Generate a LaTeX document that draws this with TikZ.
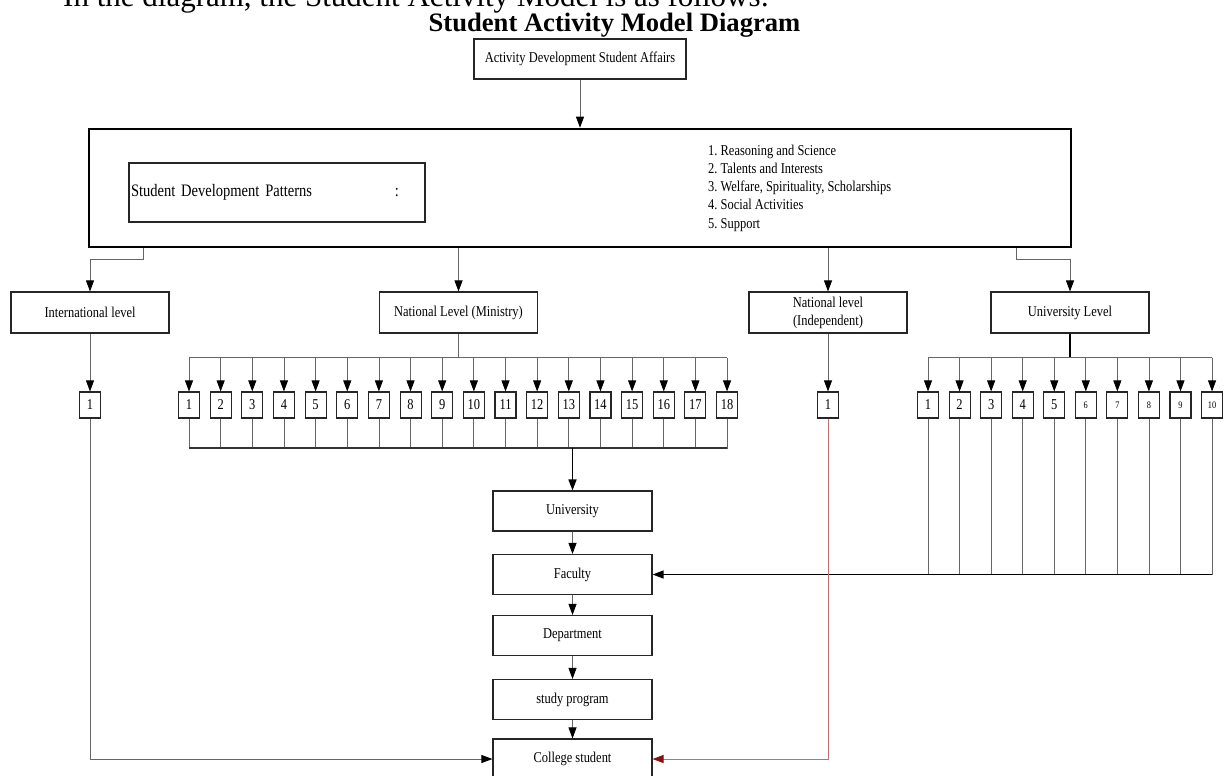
\documentclass[tikz,border=0pt]{standalone}
\usepackage{xcolor}
\usepackage{fontspec}
\setmainfont{Liberation Serif}
\newfontfamily\dgfont[FakeStretch=0.83]{Liberation Serif}
\newcommand{\dg}{\dgfont\fontsize{15}{18}\selectfont\frenchspacing\spaceskip=0.21em plus 0.1em\relax}
\newcommand{\dgsmall}{\dgfont\fontsize{10}{12}\selectfont}
\usepackage{tikz}
\usetikzlibrary{positioning}
\usetikzlibrary{arrows.meta}
\usetikzlibrary{calc}
\definecolor{redline}{HTML}{C07070}
\definecolor{redtip}{HTML}{8B1010}
\tikzset{
  box/.style={draw=black!85, line width=1.1pt, font=\dg, inner sep=2pt, align=center},
  lvlbox/.style={box, minimum width=158pt, minimum height=41pt},
  colbox/.style={box, minimum width=159pt, minimum height=40pt},
  numbox/.style={box, minimum width=21pt, minimum height=26pt, inner sep=0pt},
  link/.style={draw=black!60, line width=0.8pt},
  tip/.style={-{Triangle[width=8pt,length=11pt,color=black]}},
}
\begin{document}
\begin{tikzpicture}[x=1pt,y=-1pt]
\useasboundingbox (0,0) rectangle (1224,776);

% Heading
\node[anchor=base west, inner sep=0pt, font=\fontsize{31}{36}\selectfont] (intro) at (63,7) {In the diagram, the Student Activity Model is as follows:};
\node[anchor=base, inner sep=0pt, font=\bfseries\fontsize{26.6}{30}\selectfont] (title) at (614.5,32) {Student Activity Model Diagram};

% Top boxes
\node[box, minimum width=212pt, minimum height=40pt] (affairs) at (580,59) {Activity Development Student Affairs};
\node[draw, line width=2.6pt, minimum width=982pt, minimum height=118pt] (patterns) at (580,188) {};
\node[box, minimum width=296pt, minimum height=59pt, text width=292pt, align=left, font=\dg\fontsize{17.5}{20}\selectfont] (inner) at (277,192.5) {\makebox[264pt][l]{Student Development Patterns}:};
\node[anchor=west, inner sep=0pt, align=left, font=\dg\fontsize{15}{18.3}\selectfont] (list) at (708,188) {1. Reasoning and Science\\2. Talents and Interests\\3. Welfare, Spirituality, Scholarships\\4. Social Activities\\5. Support};
\draw[link,tip] (affairs) -- (patterns.north);

% Levels
\node[lvlbox] (intl) at (90,312.5) {International level};
\node[lvlbox] (ministry) at (458.5,312.5) {National Level (Ministry)};
\node[lvlbox] (indep) at (828,312.5) {National level\\(Independent)};
\node[lvlbox] (unilevel) at (1070,312.5) {University Level};

\draw[link,tip] ([xshift=56pt]patterns.south west) -- ++(0,11) -| (intl.north);
\draw[link,tip] (patterns.south -| ministry.north) -- (ministry.north);
\draw[link,tip] (patterns.south -| indep.north) -- (indep.north);
\draw[link,tip] ([xshift=-56pt]patterns.south east) -- ++(0,11) -| (unilevel.north);

% Small numbered boxes
\node[numbox] (intl1) at (90,405) {1};
\node[numbox] (ind1) at (828,405) {1};
\foreach \i in {1,...,18}
    \node[numbox] (m\i) at ({189+31.65*(\i-1)},405) {\i};
\foreach \i in {1,...,5}
    \node[numbox] (u\i) at ({928+31.56*(\i-1)},405) {\i};
\foreach \i in {6,...,10}
    \node[numbox, font=\dgsmall] (u\i) at ({928+31.56*(\i-1)},405) {\i};

\draw[link,tip] (intl) -- (intl1);
\draw[link,tip] (indep) -- (ind1);

% Ministry bus
\draw[link] (ministry.south) -- ++(0,24) coordinate (mbus);
\draw[link] (m1.north |- mbus) -- (m18.north |- mbus);
\foreach \i in {1,...,18}
{
    \draw[link,tip] (m\i.north |- mbus) -- (m\i.north);
    \draw[link] (m\i.south) -- ++(0,30);
}
\coordinate (mlow) at (0,448);
\draw[black!80, line width=1.1pt] (m1.south |- mlow) -- (m18.south |- mlow);

% University level bus
\draw[black, line width=1.2pt] (unilevel.south) -- ++(0,24) coordinate (ubus);
\draw[link] (u1.north |- ubus) -- (u10.north |- ubus);
\foreach \i in {1,...,10}
    \draw[link,tip] (u\i.north |- ubus) -- (u\i.north);

% Column
\node[colbox] (univ) at (572.5,511) {University};
\node[colbox] (faculty) at (572.5,574.5) {Faculty};
\node[colbox] (dept) at (572.5,635.5) {Department};
\node[colbox] (prog) at (572.5,699.5) {study program};
\node[colbox] (student) at (572.5,759) {College student};

\draw[black, line width=1.5pt, tip] (univ.north |- mlow) -- (univ.north);
\draw[link,tip] (univ) -- (faculty);
\draw[link,tip] (faculty) -- (dept);
\draw[link,tip] (dept) -- (prog);
\draw[link,tip] (prog) -- (student);

\foreach \i in {1,...,10}
    \draw[link] (u\i.south) -- (u\i.south |- faculty.east);
\draw[black, line width=1.4pt, tip] (u10.south |- faculty.east) -- (faculty.east);

% Side routes to the student
\draw[link,tip] (intl1.south) |- (student.west);
\draw[redline, line width=0.9pt, -{Triangle[width=8pt,length=11pt,color=redtip]}] (ind1.south) |- (student.east);
\end{tikzpicture}
\end{document}
